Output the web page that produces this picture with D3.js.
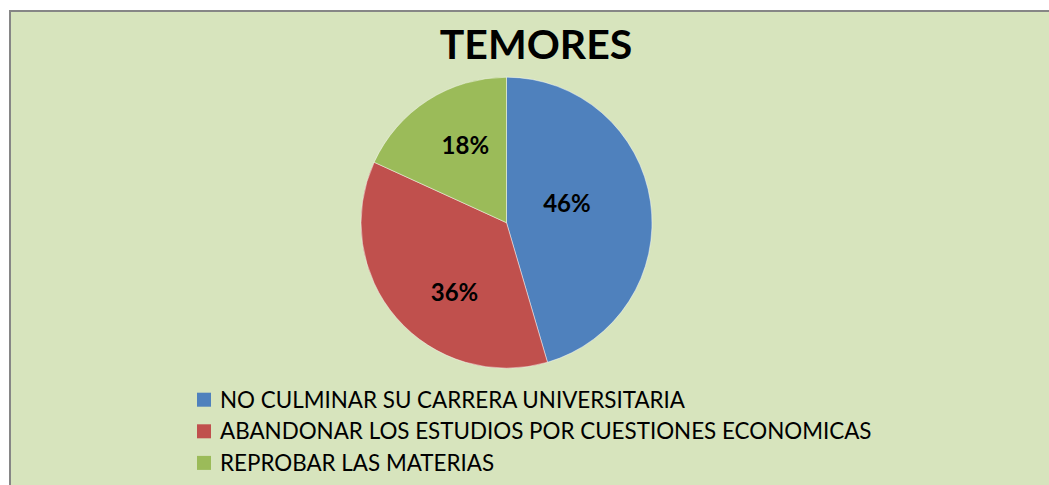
<!DOCTYPE html>
<html>
<head>
<meta charset="utf-8">
<script src="https://cdn.jsdelivr.net/npm/d3@7"></script>
<style>
  html, body { margin: 0; padding: 0; background: #ffffff; }
  svg { display: block; }
</style>
</head>
<body>
<div id="chart"></div>
<script>
// datos
var categories = ["NO CULMINAR SU CARRERA UNIVERSITARIA",
                  "ABANDONAR LOS ESTUDIOS POR CUESTIONES ECONOMICAS",
                  "REPROBAR LAS MATERIAS"];
var shares = [45.5, 36.4, 18.2];
var colors = ["#4F81BD", "#C0504D", "#9BBB59"];
var chart_title = "TEMORES";

var width = 1049, height = 485;
var cx = 506.5, cy = 222.7, radius = 145.5;

var svg = d3.select("#chart").append("svg")
    .attr("width", width)
    .attr("height", height);

// fondo del area del grafico
svg.append("rect")
    .attr("x", 10).attr("y", 11)
    .attr("width", 1070).attr("height", 500)
    .attr("fill", "#D7E4BD")
    .attr("stroke", "#868686")
    .attr("stroke-width", 2);

svg.append("text")
    .attr("x", 536).attr("y", 59)
    .attr("text-anchor", "middle")
    .style("font-family", "Lato, 'Open Sans', sans-serif")
    .style("font-weight", "bold")
    .style("font-size", "41px")
    .attr("fill", "#000")
    .text(chart_title);

var pie = d3.pie().sort(null).value(function(d) { return d; });
var arcs = pie(shares);

var arc = d3.arc().innerRadius(0).outerRadius(radius);
var label_arc = d3.arc().innerRadius(radius * 0.6).outerRadius(radius * 0.6);

var g = svg.append("g").attr("transform", "translate(" + cx + "," + cy + ")");

g.selectAll("path.slice")
    .data(arcs)
    .enter().append("path")
    .attr("class", "slice")
    .attr("d", arc)
    .attr("fill", function(d, i) { return colors[i]; })
    .attr("stroke", "#ffffff")
    .attr("stroke-opacity", 0.45)
    .attr("stroke-width", 1);

// ajuste de posicion de etiquetas (como Excel)
var nudge = [[-26, -7], [14, 13], [6, -4]];

g.selectAll("text.pct")
    .data(arcs)
    .enter().append("text")
    .attr("class", "pct")
    .attr("x", function(d, i) { return label_arc.centroid(d)[0] + nudge[i][0]; })
    .attr("y", function(d, i) { return label_arc.centroid(d)[1] + nudge[i][1]; })
    .attr("dy", "0.36em")
    .attr("text-anchor", "middle")
    .style("font-family", "Lato, 'Open Sans', sans-serif")
    .style("font-weight", "bold")
    .style("font-size", "24px")
    .attr("fill", "#000")
    .text(function(d) { return Math.round(d.data) + "%"; });

// leyenda
var legend = svg.append("g");
var row_y = d3.scaleLinear().domain([0, 1]).range([399.7, 431.3]);

categories.forEach(function(name, i)
{
    legend.append("rect")
        .attr("x", 197)
        .attr("y", row_y(i) - 7)
        .attr("width", 14)
        .attr("height", 14)
        .attr("fill", colors[i]);

    legend.append("text")
        .attr("x", 220)
        .attr("y", row_y(i) + 8)
        .style("font-family", "Lato, 'Open Sans', sans-serif")
        .style("font-size", "22.4px")
        .attr("fill", "#000")
        .text(name);
});
</script>
</body>
</html>
